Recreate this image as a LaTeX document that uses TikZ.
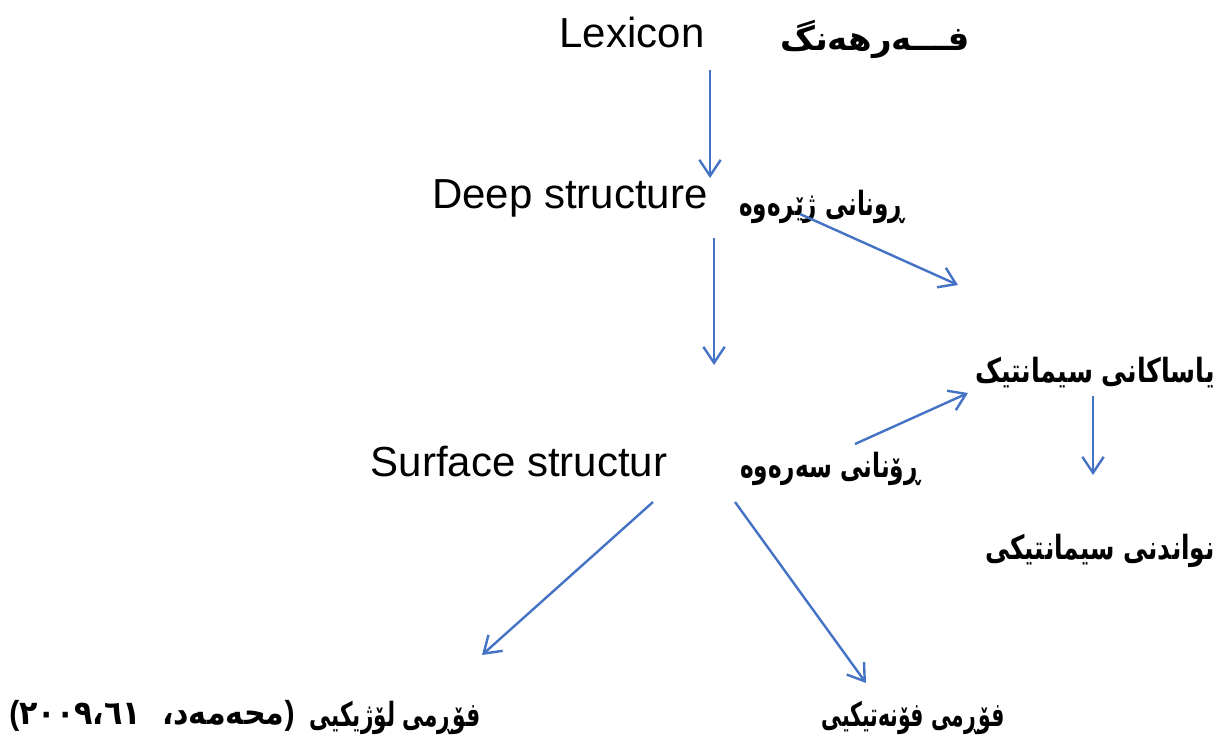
\documentclass[tikz,border=0pt]{standalone}
\usepackage{fontspec}
\usepackage{graphicx}
\setmainfont{Liberation Sans}
\newfontfamily\kfont[Script=Arabic]{DejaVu Sans}
\TeXXeTstate=1
\usetikzlibrary{arrows.meta}
\definecolor{arrowblue}{HTML}{4472C4}
\newcommand{\kutext}[2]{\resizebox{#1}{\height}{\kfont\bfseries #2}}
\newcommand{\parfont}{\normalfont\bfseries\fontsize{25}{30}\selectfont}
\tikzset{
  entxt/.style={inner sep=0pt, anchor=center, font=\fontsize{31.5}{36}\selectfont},
  kutxt/.style={inner sep=0pt, anchor=center, font=\kfont\bfseries\fontsize{25}{30}\selectfont},
  flow/.style={draw=arrowblue, line width=1.8pt, -{Straight Barb[length=12pt,width=16pt,line width=1.8pt]}}
}
\begin{document}
\begin{tikzpicture}[x=0.75pt,y=-0.75pt]
\useasboundingbox (0,0) rectangle (1219,738);
% English labels
\node[entxt] (lex) at (632,32) {Lexicon};
\node[entxt] (deep) at (570,198) {Deep structure};
\node[entxt] (surf) at (519,462) {Surface structur};
% Kurdish labels
\node[kutxt] (lexk) at (875,39) {\kutext{142pt}{\beginR فـــەرهەنگ\endR}};
\node[kutxt] (deepk) at (822,207) {\kutext{124pt}{\beginR ڕونانی ژێرەوە\endR}};
\node[kutxt] (rules) at (1095,373) {\kutext{180pt}{\beginR یاساکانی سیمانتیک\endR}};
\node[kutxt] (surfk) at (830,469) {\kutext{135pt}{\beginR ڕۆنانی سەرەوە\endR}};
\node[kutxt] (semrep) at (1100,551) {\kutext{172pt}{\beginR نواندنی سیمانتیکی\endR}};
\node[kutxt] (logic) at (395,718) {\kutext{128pt}{\beginR فۆڕمی لۆژیکیی\endR}};
\node[kutxt] (phon) at (913,718) {\kutext{137pt}{\beginR فۆڕمی فۆنەتیکیی\endR}};
\node[kutxt] (cite) at (152,716) {\resizebox{214pt}{\height}{{\parfont(}\kfont\bfseries\beginR محەمەد،\ \ \beginL٢٠٠٩،٦١\endL\endR{\parfont)}}};
% connector end points
\coordinate (a1s) at (710,70);  \coordinate (a1e) at (710,178);
\coordinate (a2s) at (714,238); \coordinate (a2e) at (714,365);
\coordinate (a3s) at (800,214); \coordinate (a3e) at (958,285);
\coordinate (a4s) at (855,444); \coordinate (a4e) at (968,393);
\coordinate (a5s) at (1093,396); \coordinate (a5e) at (1093,475);
\coordinate (a6s) at (653,502); \coordinate (a6e) at (482,655);
\coordinate (a7s) at (735,502); \coordinate (a7e) at (866,683);
\draw[flow] (a1s) -- (a1e);
\draw[flow] (a2s) -- (a2e);
\draw[flow] (a3s) -- (a3e);
\draw[flow] (a4s) -- (a4e);
\draw[flow] (a5s) -- (a5e);
\draw[flow] (a6s) -- (a6e);
\draw[flow] (a7s) -- (a7e);
\end{tikzpicture}
\end{document}
